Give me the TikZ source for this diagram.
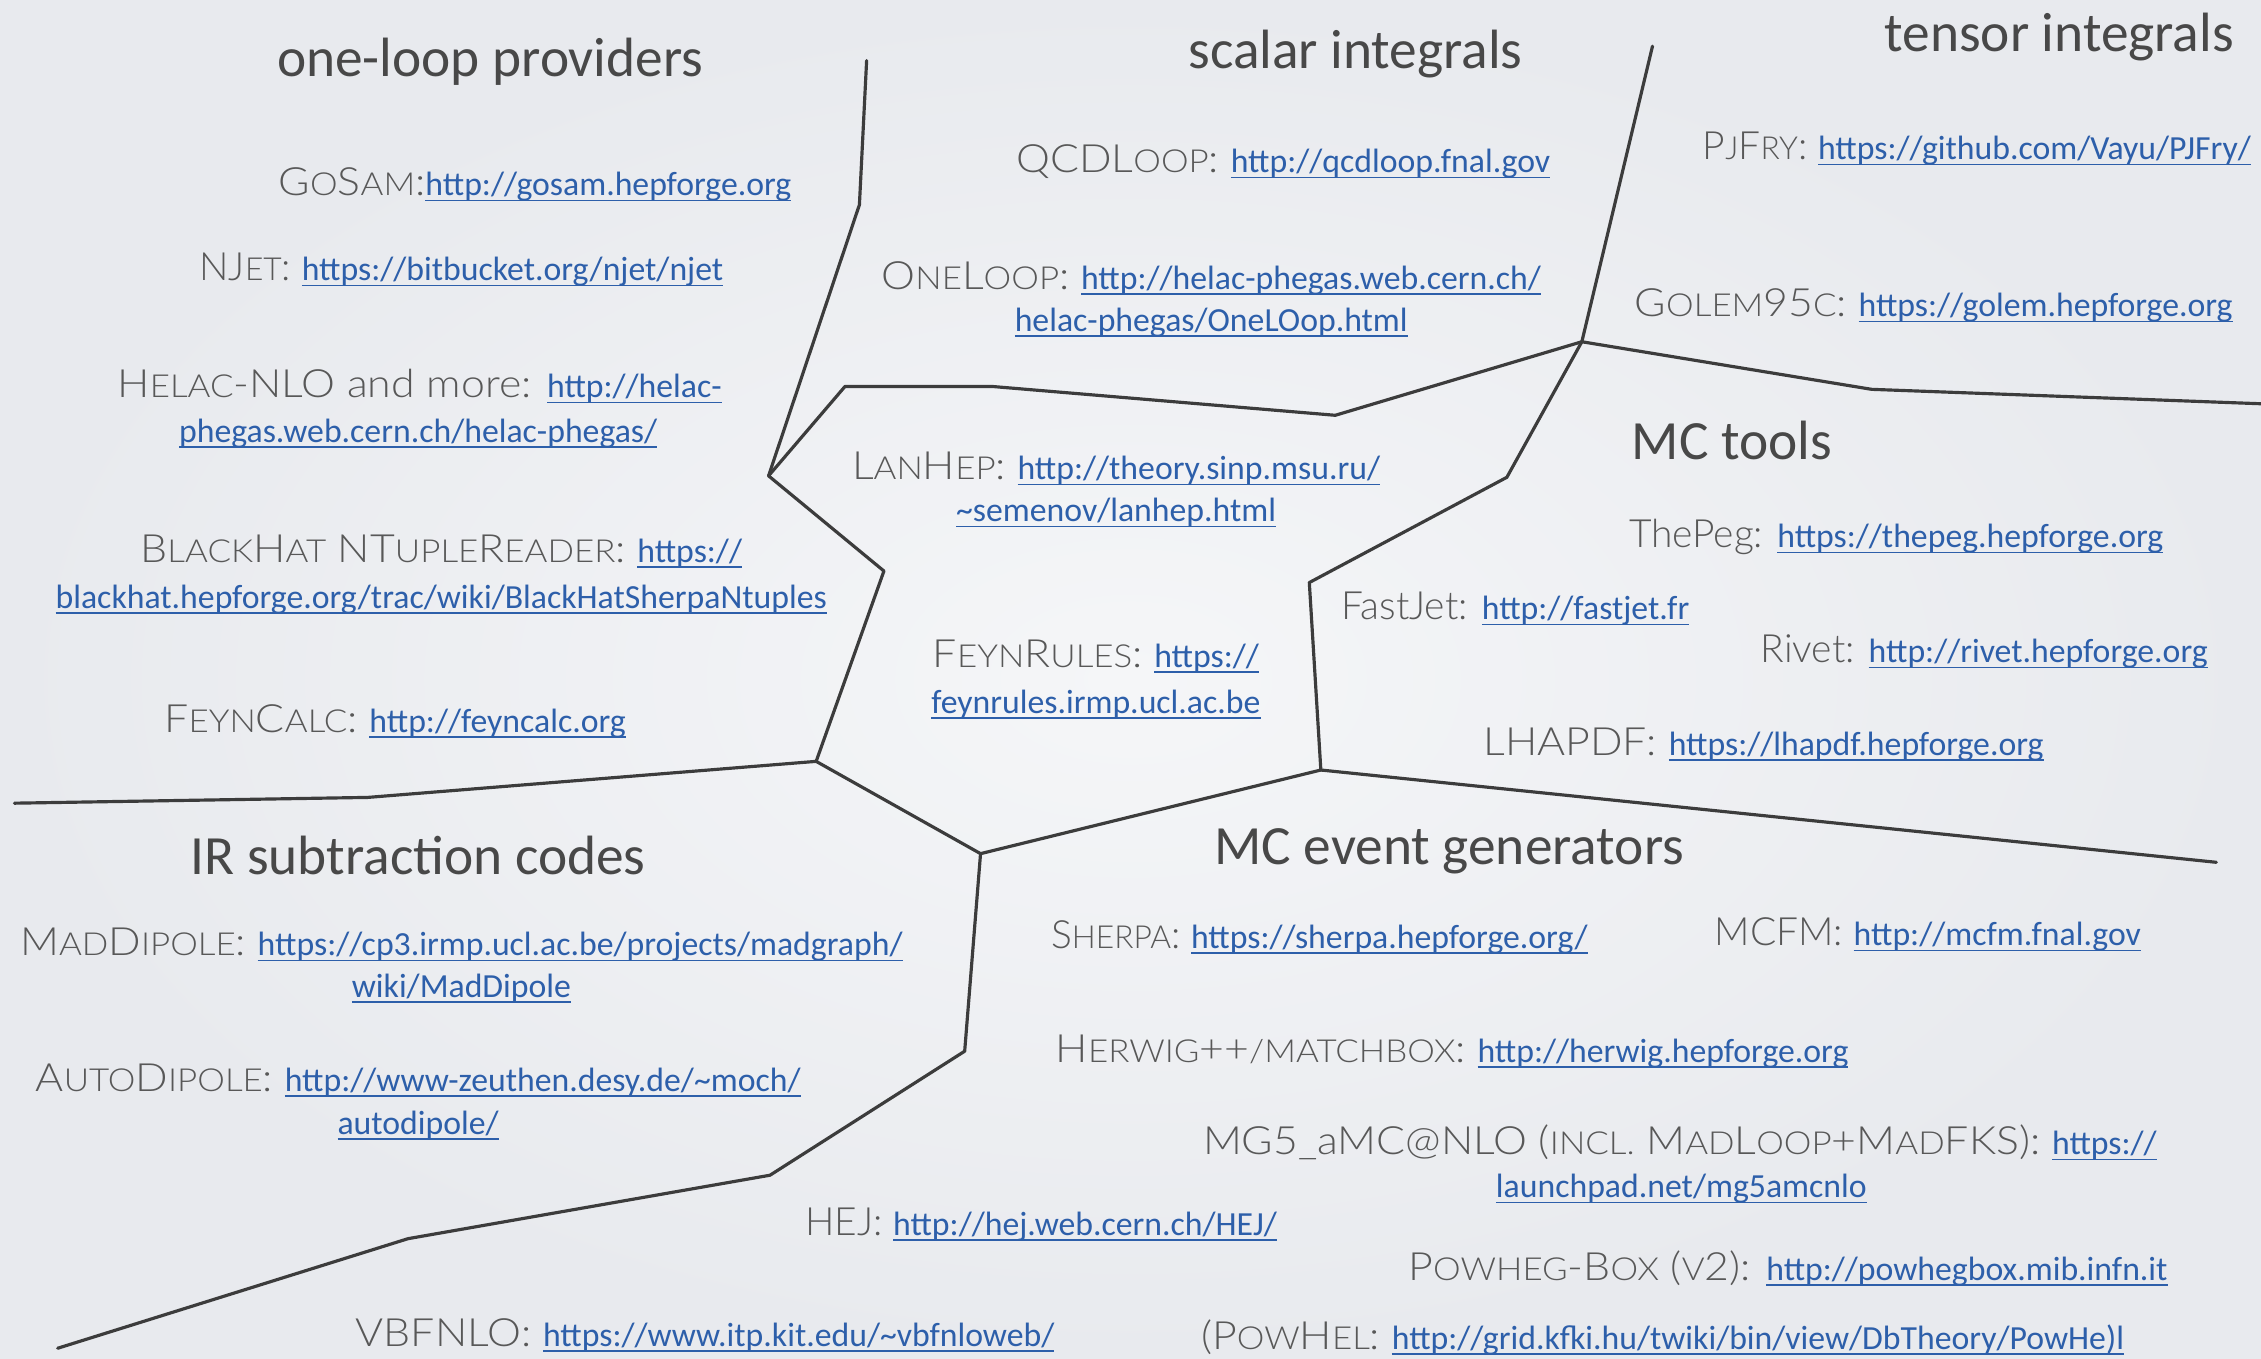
\documentclass[tikz,border=0pt]{standalone}
\usepackage{fontspec}
\setmainfont{Carlito}
\newfontfamily\urlfam{Carlito}
\IfFontExistsTF{Lato Light}{\def\labname{Lato Light}}{\def\labname{Lato}}
\newfontfamily\labfam{\labname}
\newfontfamily\labsm{\labname}[Scale=0.815]
\newfontfamily\capfam{\labname}[FakeStretch=1.1]
\newfontfamily\capsm{\labname}[Scale=0.815,FakeStretch=1.1]
\let\smfam\labsm
\definecolor{bgin}{RGB}{245,246,248}
\definecolor{bgout}{RGB}{232,234,238}
\definecolor{headgrey}{RGB}{72,72,72}
\definecolor{textgrey}{RGB}{88,88,88}
\definecolor{linkblue}{RGB}{45,95,170}
\definecolor{wallgrey}{RGB}{60,60,60}
\newlength{\lnkw}
\newcommand{\sm}[1]{{\smfam #1}}
\newcommand{\lnk}[1]{{\urlfam\fontsize{11.7pt}{14pt}\selectfont\settowidth{\lnkw}{#1}\textcolor{linkblue}{\rlap{\rule[-1.9pt]{\lnkw}{0.55pt}}#1}}}
\tikzset{
  head/.style={font=\fontsize{19.2pt}{22pt}\selectfont, text=headgrey, inner sep=0pt, anchor=mid, yshift=-2pt},
  entry/.style={font={\labfam\let\smfam\labsm\fontsize{13.5pt}{16pt}\selectfont}, text=textgrey, inner sep=0pt, anchor=mid, yshift=-1.5pt},
  centry/.style={entry, font={\capfam\let\smfam\capsm\fontsize{13.5pt}{16pt}\selectfont}},
  wall/.style={draw=wallgrey, line width=1.1pt, line join=round, line cap=round}
}
\begin{document}
\begin{tikzpicture}[x=0.5pt,y=-0.5pt]
\shade[inner color=bgin, outer color=bgout] (0,0) rectangle (1568,942);
\useasboundingbox (0,0) rectangle (1568,942);

% junctions
\coordinate (J1) at (533,330);
\coordinate (J2) at (1097,237);
\coordinate (J3) at (916,534);
\coordinate (J4) at (566,528);
\coordinate (J5) at (680,592);
\coordinate (T1) at (601,42);
\coordinate (T2) at (1146,32);
\coordinate (R1) at (1568,280);
\coordinate (R2) at (1537,598);
\coordinate (L1) at (10,557);
\coordinate (B1) at (40,935);

% walls
\draw[wall] (T1) -- (596,142) -- (J1);
\draw[wall] (J1) -- (586,268) -- (688,268) -- (926,288) -- (J2);
\draw[wall] (T2) -- (J2);
\draw[wall] (J2) -- (1298,270) -- (R1);
\draw[wall] (J2) -- (1045,331) -- (908,404) -- (J3);
\draw[wall] (J1) -- (613,396) -- (J4);
\draw[wall] (L1) -- (255,553) -- (J4);
\draw[wall] (J4) -- (J5);
\draw[wall] (J5) -- (J3);
\draw[wall] (J3) -- (R2);
\draw[wall] (J5) -- (669,729) -- (534,815) -- (283,859) -- (B1);

% headings
\node[head] (hOL) at (340,44) {one-loop providers};
\node[head] (hSI) at (940,39) {scalar integrals};
\node[head] (hTI) at (1428,27) {tensor integrals};
\node[head] (hMT) at (1201,310) {MC tools};
\node[head] (hIR) at (290,598) {IR subtraction codes};
\node[head] (hEG) at (1005,591) {MC event generators};

% one-loop providers
\node[centry] (gosam) at (371,128) {G\sm{O}S\sm{AM}:\lnk{http://gosam.hepforge.org}};
\node[entry] (njet) at (320,187) {NJ\sm{ET}: \lnk{https://bitbucket.org/njet/njet}};
\node[centry] (helacA) at (291,268) {H\sm{ELAC}-NLO and more: \lnk{http://helac-}};
\node[entry] (helacB) at (290,299) {\lnk{phegas.web.cern.ch/helac-phegas/}};
\node[centry] (bhA) at (306,382) {B\sm{LACK}H\sm{AT} NT\sm{UPLE}R\sm{EADER}: \lnk{https://}};
\node[entry] (bhB) at (306,414) {\lnk{blackhat.hepforge.org/trac/wiki/BlackHatSherpaNtuples}};
\node[centry] (feyncalc) at (274,500) {F\sm{EYN}C\sm{ALC}: \lnk{http://feyncalc.org}};

% scalar integrals
\node[centry] (qcdloop) at (890,112) {QCDL\sm{OOP}: \lnk{http://qcdloop.fnal.gov}};
\node[centry] (oneloopA) at (840,193) {O\sm{NE}L\sm{OOP}: \lnk{http://helac-phegas.web.cern.ch/}};
\node[entry] (oneloopB) at (840,222) {\lnk{helac-phegas/OneLOop.html}};

% centre
\node[centry] (lanhepA) at (774,325) {L\sm{AN}H\sm{EP}: \lnk{http://theory.sinp.msu.ru/}};
\node[entry] (lanhepB) at (774,354) {\lnk{\textasciitilde semenov/lanhep.html}};
\node[centry] (feynrulesA) at (760,455) {F\sm{EYN}R\sm{ULES}: \lnk{https://}};
\node[entry] (feynrulesB) at (760,487) {\lnk{feynrules.irmp.ucl.ac.be}};

% tensor integrals
\node[entry] (pjfry) at (1371,103) {P\sm{J}F\sm{RY}: \lnk{https://github.com/Vayu/PJFry/}};
\node[centry] (golem) at (1341,212) {G\sm{OLEM}95\sm{C}: \lnk{https://golem.hepforge.org}};

% MC tools
\node[entry] (thepeg) at (1315,372) {ThePeg: \lnk{https://thepeg.hepforge.org}};
\node[entry] (fastjet) at (1051,422) {FastJet: \lnk{http://fastjet.fr}};
\node[entry] (rivet) at (1376,452) {Rivet: \lnk{http://rivet.hepforge.org}};
\node[centry] (lhapdf) at (1223,516) {LHAPDF: \lnk{https://lhapdf.hepforge.org}};

% IR subtraction codes
\node[centry] (madA) at (320,655) {M\sm{AD}D\sm{IPOLE}: \lnk{https://cp3.irmp.ucl.ac.be/projects/madgraph/}};
\node[entry] (madB) at (320,684) {\lnk{wiki/MadDipole}};
\node[centry] (autoA) at (290,749) {A\sm{UTO}D\sm{IPOLE}: \lnk{http://www-zeuthen.desy.de/\textasciitilde moch/}};
\node[entry] (autoB) at (290,779) {\lnk{autodipole/}};
\node[entry] (hej) at (722,849) {HEJ: \lnk{http://hej.web.cern.ch/HEJ/}};
\node[centry] (vbfnlo) at (489,926) {VBFNLO: \lnk{https://www.itp.kit.edu/\textasciitilde vbfnloweb/}};

% MC event generators
\node[entry] (sherpa) at (915,650) {S\sm{HERPA}: \lnk{https://sherpa.hepforge.org/}};
\node[entry] (mcfm) at (1337,648) {MCFM: \lnk{http://mcfm.fnal.gov}};
\node[centry] (herwig) at (1007,729) {H\sm{ERWIG}++\sm{/MATCHBOX}: \lnk{http://herwig.hepforge.org}};
\node[centry] (mgA) at (1165,793) {MG5\_aMC@NLO (\sm{INCL.} M\sm{AD}L\sm{OOP}+M\sm{AD}FKS): \lnk{https://}};
\node[entry] (mgB) at (1166,823) {\lnk{launchpad.net/mg5amcnlo}};
\node[centry] (powheg) at (1240,880) {P\sm{OWHEG}-B\sm{OX} (\sm{V}2): \lnk{http://powhegbox.mib.infn.it}};
\node[centry] (powhel) at (1153,928) {(P\sm{OW}H\sm{EL}: \lnk{http://grid.kfki.hu/twiki/bin/view/DbTheory/PowHe)l}};
\end{tikzpicture}
\end{document}
